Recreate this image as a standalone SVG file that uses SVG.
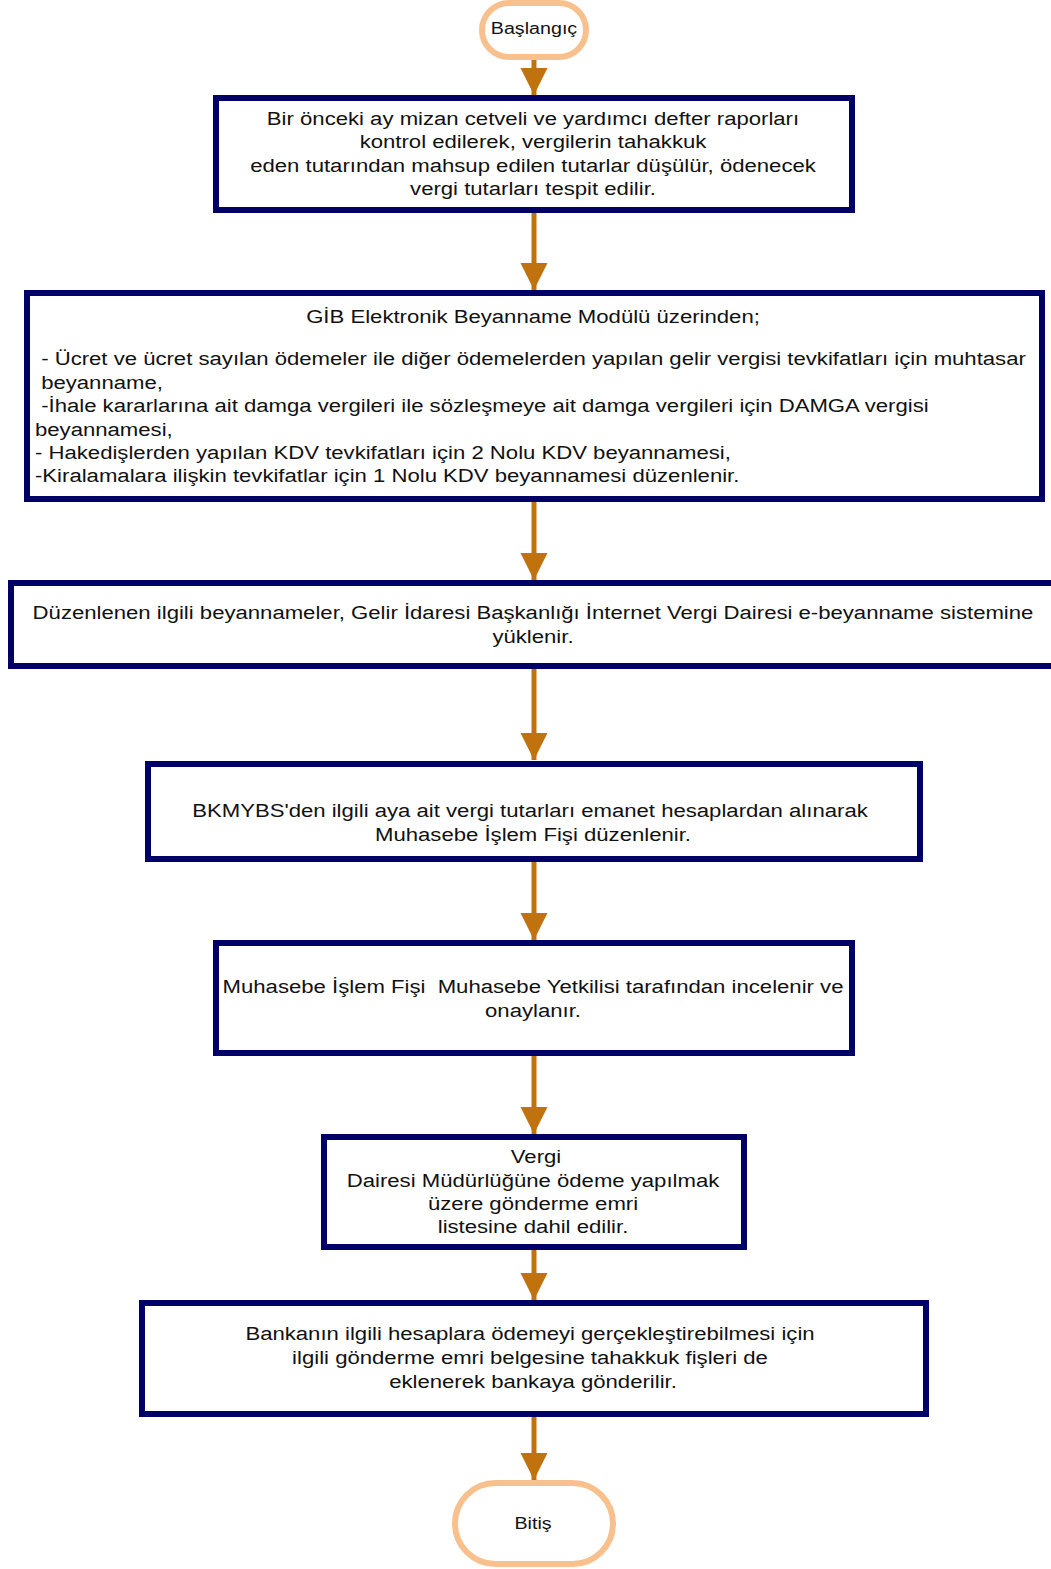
<svg xmlns="http://www.w3.org/2000/svg" width="1051" height="1569" viewBox="0 0 1051 1569">
<defs>
<marker id="ah" viewBox="0 0 10 10" refX="10" refY="5" markerWidth="5.5" markerHeight="5.5" markerUnits="strokeWidth" orient="auto">
<path d="M0,0 L10,5 L0,10 Z" fill="#C0720E"/>
</marker>
<style>
.box{fill:#fff;stroke:#000066;stroke-width:6}
.term{fill:#fff;stroke:#F8C08C;stroke-width:6}
.t{font-family:"Liberation Sans",Arial,sans-serif;font-size:18px;fill:#111;text-anchor:middle}
.l{font-family:"Liberation Sans",Arial,sans-serif;font-size:18px;fill:#111}
.s{font-family:"Liberation Sans",Arial,sans-serif;font-size:16px;fill:#111;text-anchor:middle}
.c{stroke:#C0720E;stroke-width:5;fill:none;marker-end:url(#ah)}
</style>
</defs>
<rect width="1051" height="1569" fill="#fff"/>
<g id="connectors">
<line class="c" x1="534" y1="58" x2="534" y2="95"/>
<line class="c" x1="534" y1="211" x2="534" y2="290"/>
<line class="c" x1="534" y1="500" x2="534" y2="580"/>
<line class="c" x1="534" y1="667" x2="534" y2="760"/>
<line class="c" x1="534" y1="860" x2="534" y2="940"/>
<line class="c" x1="534" y1="1054" x2="534" y2="1134"/>
<line class="c" x1="534" y1="1248" x2="534" y2="1300"/>
<line class="c" x1="534" y1="1415" x2="534" y2="1480"/>
</g>
<g id="start">
<rect class="term" x="482" y="3" width="104" height="54" rx="27"/>
<text class="s" transform="translate(534,34) scale(1.23,1)">Başlangıç</text>
</g>
<g id="n1">
<rect class="box" x="216" y="98" width="636" height="112"/>
<text class="t" transform="translate(533,125) scale(1.23,1)">Bir önceki ay mizan cetveli ve yardımcı defter raporları</text>
<text class="t" transform="translate(533,148) scale(1.23,1)">kontrol edilerek, vergilerin tahakkuk</text>
<text class="t" transform="translate(533,172) scale(1.23,1)">eden tutarından mahsup edilen tutarlar düşülür, ödenecek</text>
<text class="t" transform="translate(533,195) scale(1.23,1)">vergi tutarları tespit edilir.</text>
</g>
<g id="n2">
<rect class="box" x="27" y="293" width="1015" height="206"/>
<text class="t" transform="translate(533,323) scale(1.23,1)">GİB Elektronik Beyanname Modülü üzerinden;</text>
<text class="l" transform="translate(35,365) scale(1.23,1)" xml:space="preserve"> - Ücret ve ücret sayılan ödemeler ile diğer ödemelerden yapılan gelir vergisi tevkifatları için muhtasar</text>
<text class="l" transform="translate(35,389) scale(1.23,1)" xml:space="preserve"> beyanname,</text>
<text class="l" transform="translate(35,412) scale(1.23,1)" xml:space="preserve"> -İhale kararlarına ait damga vergileri ile sözleşmeye ait damga vergileri için DAMGA vergisi</text>
<text class="l" transform="translate(35,436) scale(1.23,1)">beyannamesi,</text>
<text class="l" transform="translate(35,459) scale(1.23,1)">- Hakedişlerden yapılan KDV tevkifatları için 2 Nolu KDV beyannamesi,</text>
<text class="l" transform="translate(35,482) scale(1.23,1)">-Kiralamalara ilişkin tevkifatlar için 1 Nolu KDV beyannamesi düzenlenir.</text>
</g>
<g id="n3">
<rect class="box" x="11" y="583" width="1050" height="83"/>
<text class="t" transform="translate(533,619) scale(1.23,1)">Düzenlenen ilgili beyannameler, Gelir İdaresi Başkanlığı İnternet Vergi Dairesi e-beyanname sistemine</text>
<text class="t" transform="translate(533,643) scale(1.23,1)">yüklenir.</text>
</g>
<g id="n4">
<rect class="box" x="148" y="764" width="772" height="95"/>
<text class="t" transform="translate(530,817) scale(1.23,1)">BKMYBS'den ilgili aya ait vergi tutarları emanet hesaplardan alınarak</text>
<text class="t" transform="translate(533,841) scale(1.23,1)">Muhasebe İşlem Fişi düzenlenir.</text>
</g>
<g id="n5">
<rect class="box" x="216" y="943" width="636" height="110"/>
<text class="t" transform="translate(533,993) scale(1.23,1)" xml:space="preserve">Muhasebe İşlem Fişi  Muhasebe Yetkilisi tarafından incelenir ve</text>
<text class="t" transform="translate(533,1017) scale(1.23,1)">onaylanır.</text>
</g>
<g id="n6">
<rect class="box" x="324" y="1137" width="420" height="110"/>
<text class="t" transform="translate(536,1163) scale(1.23,1)">Vergi</text>
<text class="t" transform="translate(533,1187) scale(1.23,1)">Dairesi Müdürlüğüne ödeme yapılmak</text>
<text class="t" transform="translate(533,1210) scale(1.23,1)">üzere gönderme emri</text>
<text class="t" transform="translate(533,1233) scale(1.23,1)">listesine dahil edilir.</text>
</g>
<g id="n7">
<rect class="box" x="142" y="1303" width="784" height="111"/>
<text class="t" transform="translate(530,1340) scale(1.23,1)">Bankanın ilgili hesaplara ödemeyi gerçekleştirebilmesi için</text>
<text class="t" transform="translate(530,1364) scale(1.23,1)">ilgili gönderme emri belgesine tahakkuk fişleri de</text>
<text class="t" transform="translate(533,1388) scale(1.23,1)">eklenerek bankaya gönderilir.</text>
</g>
<g id="end">
<rect class="term" x="455" y="1483" width="158" height="81" rx="40.5"/>
<text class="s" transform="translate(533,1529) scale(1.23,1)">Bitiş</text>
</g>
</svg>
